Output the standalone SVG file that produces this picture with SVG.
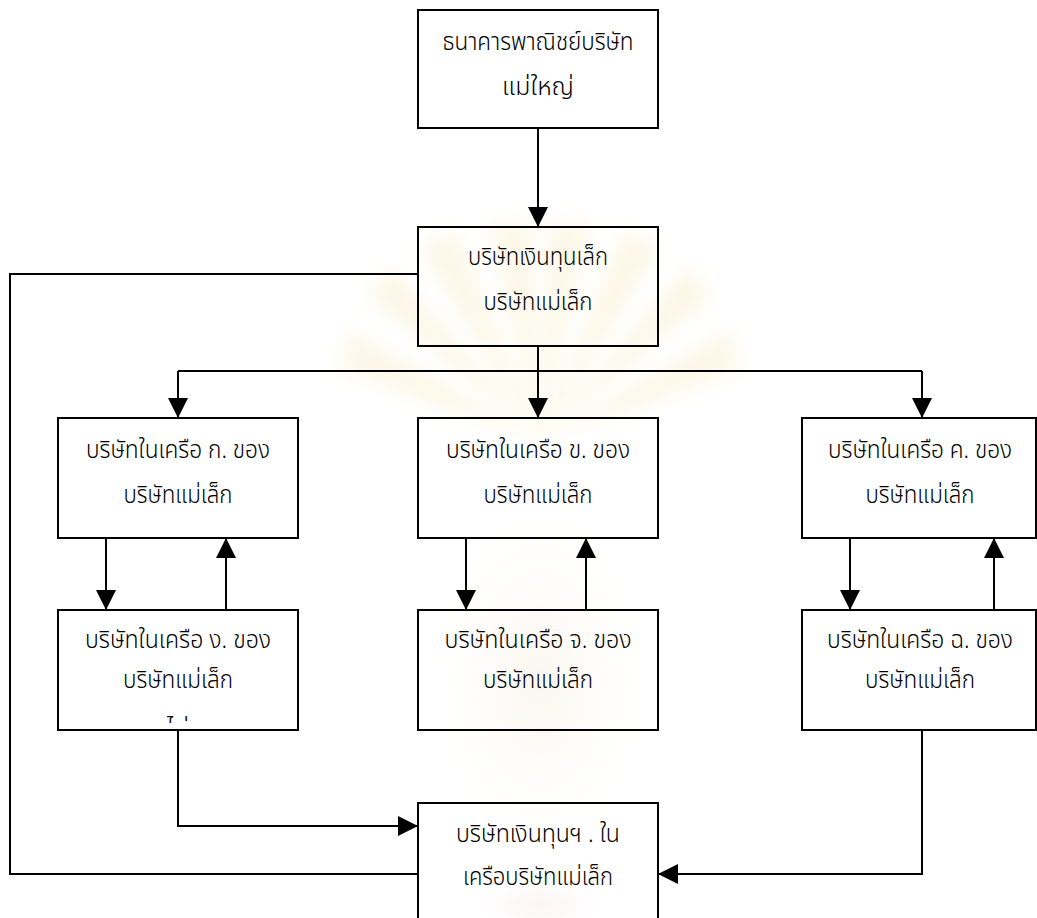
<svg xmlns="http://www.w3.org/2000/svg" width="1037" height="918" viewBox="0 0 1037 918">
  <defs>
    <style>
      .box { fill: none; stroke: #000; stroke-width: 2; }
      .wire { fill: none; stroke: #000; stroke-width: 2; }
      .lbl { font-family: "Noto Sans Thai", "Noto Sans", "DejaVu Sans", sans-serif; font-size: 25px; font-weight: 300; fill: #000; text-anchor: middle; }
      .ray { fill: #f3dc94; }
    </style>
    <marker id="arrow" markerUnits="userSpaceOnUse" markerWidth="20" markerHeight="20" viewBox="0 0 20 20" refX="20" refY="10" orient="auto">
      <path d="M0,0 L20,10 L0,20 z" fill="#000"/>
    </marker>
    <radialGradient id="body" cx="0.5" cy="0.5" r="0.5">
      <stop offset="0" stop-color="#ece2bf" stop-opacity="0.3"/>
      <stop offset="1" stop-color="#ffffff" stop-opacity="0"/>
    </radialGradient>
    <radialGradient id="band" cx="0.5" cy="0.5" r="0.5">
      <stop offset="0" stop-color="#f2cccc" stop-opacity="0.35"/>
      <stop offset="1" stop-color="#ffffff" stop-opacity="0"/>
    </radialGradient>
    <filter id="soft" x="-30%" y="-30%" width="160%" height="160%">
      <feGaussianBlur stdDeviation="9"/>
    </filter>
    <clipPath id="clipD">
      <rect x="59" y="611" width="238" height="112"/>
    </clipPath>
  </defs>

  <rect width="1037" height="918" fill="#fff"/>

  <!-- faint background seal: sunburst and body -->
  <g id="seal">
    <g filter="url(#soft)" opacity="0.22">
      <path class="ray" d="M540,440 L340,370 L350,330 Z"/>
      <path class="ray" d="M540,440 L368,296 L392,266 Z"/>
      <path class="ray" d="M540,440 L420,248 L456,230 Z"/>
      <path class="ray" d="M540,440 L490,224 L530,220 Z"/>
      <path class="ray" d="M540,440 L550,220 L590,224 Z"/>
      <path class="ray" d="M540,440 L624,230 L660,248 Z"/>
      <path class="ray" d="M540,440 L688,266 L712,296 Z"/>
      <path class="ray" d="M540,440 L730,330 L740,370 Z"/>
    </g>
    <g filter="url(#soft)">
      <ellipse cx="540" cy="680" rx="120" ry="200" fill="url(#body)"/>
      <ellipse cx="540" cy="905" rx="80" ry="26" fill="url(#band)"/>
    </g>
  </g>

  <g id="connectors">
    <path class="wire" d="M538,128 V227" marker-end="url(#arrow)"/>
    <path class="wire" d="M538,346 V371 M178,371 H922"/>
    <path class="wire" d="M178,371 V418" marker-end="url(#arrow)"/>
    <path class="wire" d="M538,371 V418" marker-end="url(#arrow)"/>
    <path class="wire" d="M922,371 V418" marker-end="url(#arrow)"/>
    <path class="wire" d="M106,538 V610" marker-end="url(#arrow)"/>
    <path class="wire" d="M226,610 V538" marker-end="url(#arrow)"/>
    <path class="wire" d="M466,538 V610" marker-end="url(#arrow)"/>
    <path class="wire" d="M586,610 V538" marker-end="url(#arrow)"/>
    <path class="wire" d="M850,538 V610" marker-end="url(#arrow)"/>
    <path class="wire" d="M994,610 V538" marker-end="url(#arrow)"/>
    <path class="wire" d="M178,730 V826 H418" marker-end="url(#arrow)"/>
    <path class="wire" d="M922,730 V874 H658" marker-end="url(#arrow)"/>
    <path class="wire" d="M418,274 H10 V874 H418"/>
  </g>

  <g id="parent-bank">
    <rect class="box" x="418" y="10" width="240" height="118"/>
    <text class="lbl" x="538" y="50" textLength="191" lengthAdjust="spacingAndGlyphs">ธนาคารพาณิชย์บริษัท</text>
    <text class="lbl" x="538" y="95" textLength="72" lengthAdjust="spacingAndGlyphs">แม่ใหญ่</text>
  </g>

  <g id="finance-parent">
    <rect class="box" x="418" y="227" width="240" height="119"/>
    <text class="lbl" x="538" y="265" textLength="140" lengthAdjust="spacingAndGlyphs">บริษัทเงินทุนเล็ก</text>
    <text class="lbl" x="538" y="310" textLength="109" lengthAdjust="spacingAndGlyphs">บริษัทแม่เล็ก</text>
  </g>

  <g id="sub-a">
    <rect class="box" x="58" y="418" width="240" height="120"/>
    <text class="lbl" x="178" y="458" textLength="184" lengthAdjust="spacingAndGlyphs">บริษัทในเครือ ก. ของ</text>
    <text class="lbl" x="178" y="503" textLength="109" lengthAdjust="spacingAndGlyphs">บริษัทแม่เล็ก</text>
  </g>

  <g id="sub-b">
    <rect class="box" x="418" y="418" width="240" height="120"/>
    <text class="lbl" x="538" y="458" textLength="184" lengthAdjust="spacingAndGlyphs">บริษัทในเครือ ข. ของ</text>
    <text class="lbl" x="538" y="503" textLength="109" lengthAdjust="spacingAndGlyphs">บริษัทแม่เล็ก</text>
  </g>

  <g id="sub-c">
    <rect class="box" x="802" y="418" width="234" height="120"/>
    <text class="lbl" x="920" y="458" textLength="184" lengthAdjust="spacingAndGlyphs">บริษัทในเครือ ค. ของ</text>
    <text class="lbl" x="920" y="503" textLength="109" lengthAdjust="spacingAndGlyphs">บริษัทแม่เล็ก</text>
  </g>

  <g id="sub-d">
    <rect class="box" x="58" y="610" width="240" height="120"/>
    <text class="lbl" x="178" y="648" textLength="186" lengthAdjust="spacingAndGlyphs">บริษัทในเครือ ง. ของ</text>
    <text class="lbl" x="178" y="688" textLength="110" lengthAdjust="spacingAndGlyphs">บริษัทแม่เล็ก</text>
    <text class="lbl" x="178" y="737" clip-path="url(#clipD)">ไม่</text>
  </g>

  <g id="sub-e">
    <rect class="box" x="418" y="610" width="240" height="120"/>
    <text class="lbl" x="538" y="648" textLength="187" lengthAdjust="spacingAndGlyphs">บริษัทในเครือ จ. ของ</text>
    <text class="lbl" x="538" y="688" textLength="110" lengthAdjust="spacingAndGlyphs">บริษัทแม่เล็ก</text>
  </g>

  <g id="sub-f">
    <rect class="box" x="802" y="610" width="234" height="120"/>
    <text class="lbl" x="920" y="648" textLength="186" lengthAdjust="spacingAndGlyphs">บริษัทในเครือ ฉ. ของ</text>
    <text class="lbl" x="920" y="688" textLength="110" lengthAdjust="spacingAndGlyphs">บริษัทแม่เล็ก</text>
  </g>

  <g id="finance-group">
    <rect class="box" x="418" y="803" width="240" height="130"/>
    <text class="lbl" x="538" y="842" textLength="164" lengthAdjust="spacingAndGlyphs">บริษัทเงินทุนฯ . ใน</text>
    <text class="lbl" x="538" y="885" textLength="150" lengthAdjust="spacingAndGlyphs">เครือบริษัทแม่เล็ก</text>
  </g>
</svg>
